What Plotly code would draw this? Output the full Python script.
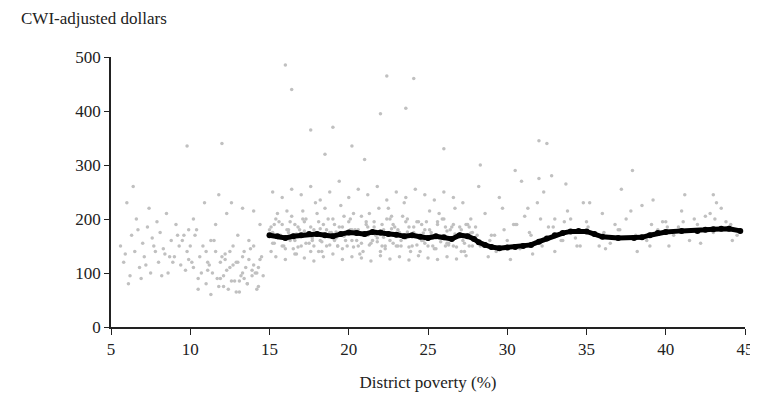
import plotly.graph_objects as go

gx = [5.6,5.8,6.0,6.2,6.3,6.5,6.6,6.8,7.0,7.1,7.3,7.5,7.6,7.8,8.0,8.1,8.3,8.5,8.6,8.8,9.0,9.1,9.3,9.4,9.6,9.8,9.9,
      6.1,6.7,7.2,7.7,8.2,8.7,9.2,9.7,6.4,7.4,8.4,9.5,5.9,6.9,7.9,8.9,9.9,
      10.0,10.2,10.3,10.5,10.6,10.8,11.0,11.1,11.3,11.4,11.6,11.8,11.9,12.1,12.2,12.4,12.5,12.7,12.8,13.0,13.1,13.3,13.4,13.6,13.7,13.9,14.0,14.2,14.3,14.5,
      10.1,10.4,10.7,11.0,11.2,11.5,11.7,12.0,12.3,12.6,12.9,13.2,13.5,13.8,14.1,14.4,
      10.2,10.9,11.6,12.3,13.0,13.7,14.4,10.5,11.3,12.1,12.9,13.6,14.3,11.8,12.6,13.3,14.0,
      11.1,11.9,12.7,13.4,14.2,12.2,13.1,13.9,14.6,12.5,13.3,14.0,
      15.0,15.2,15.4,15.6,15.8,16.0,16.2,16.4,16.6,16.8,17.0,17.2,17.4,17.6,17.8,18.0,18.2,18.4,18.6,18.8,19.0,19.2,19.4,19.6,19.8,20.0,
      20.2,20.4,20.6,20.8,21.0,21.2,21.4,21.6,21.8,22.0,22.2,22.4,22.6,22.8,23.0,23.2,23.4,23.6,23.8,24.0,24.2,24.4,24.6,24.8,25.0,
      25.2,25.4,25.6,25.8,26.0,26.2,26.4,26.6,26.8,27.0,27.2,27.4,27.6,27.8,
      15.1,15.5,15.9,16.3,16.7,17.1,17.5,17.9,18.3,18.7,19.1,19.5,19.9,20.3,20.7,21.1,21.5,21.9,22.3,22.7,23.1,23.5,23.9,24.3,24.7,25.1,25.5,25.9,26.3,26.7,27.1,27.5,
      15.3,15.7,16.1,16.5,16.9,17.3,17.7,18.1,18.5,18.9,19.3,19.7,20.1,20.5,20.9,21.3,21.7,22.1,22.5,22.9,23.3,23.7,24.1,24.5,24.9,25.3,25.7,26.1,26.5,26.9,27.3,27.7,
      15.1,15.6,16.1,16.6,17.1,17.6,18.1,18.6,19.1,19.6,20.1,20.6,21.1,21.6,22.1,22.6,23.1,23.6,24.1,24.6,25.1,25.6,26.1,26.6,27.1,27.6,
      15.3,15.8,16.3,16.8,17.3,17.8,18.3,18.8,19.3,19.8,20.3,20.8,21.3,21.8,22.3,22.8,23.3,23.8,24.3,24.8,25.3,25.8,26.3,26.8,27.3,27.8,
      15.2,15.7,16.2,16.7,17.2,17.7,18.2,18.7,19.2,19.7,20.2,20.7,21.2,21.7,22.2,22.7,23.2,23.7,24.2,24.7,25.2,25.7,26.2,26.7,27.2,27.7,
      15.2,15.8,16.4,17.0,17.6,18.2,18.8,19.4,20.0,20.6,21.2,21.8,22.4,23.0,23.6,24.2,24.8,25.4,26.0,26.6,27.2,
      15.4,16.0,16.6,17.2,17.8,18.4,19.0,19.6,20.2,20.8,21.4,22.0,22.6,23.2,23.8,24.4,25.0,25.6,26.2,26.8,27.4,
      28.0,28.3,28.6,29.0,29.3,29.7,30.0,30.4,30.8,31.1,31.5,31.9,32.2,32.6,33.0,33.4,33.8,34.2,34.6,35.0,35.5,36.0,36.5,37.0,37.5,38.0,38.5,39.0,39.5,40.0,40.5,41.0,41.5,42.0,42.5,43.0,43.5,44.0,44.5,
      28.2,28.8,29.5,30.2,30.9,31.6,32.3,33.0,33.7,34.4,35.2,36.2,37.2,38.2,39.2,40.2,41.2,42.2,43.2,44.2,
      28.5,29.2,30.5,31.3,32.0,32.8,33.5,34.0,34.8,35.8,36.8,37.8,38.8,39.8,40.8,41.8,42.8,43.8,
      28.1,28.9,29.8,30.6,31.4,32.1,32.9,33.6,34.3,35.1,36.1,37.1,38.1,39.1,40.1,41.1,42.1,43.1,44.1,
      16.0,16.4,17.6,22.4,24.1,23.6,22.0,19.0,20.2,9.8,12.0,32.0,32.5,26.0,18.5,21.0,37.9,43.0,30.5,28.3]
gy = [150,120,230,95,170,140,200,110,155,130,185,100,165,140,120,175,145,210,100,160,130,190,150,115,170,140,125,
      80,180,115,150,95,130,170,105,260,220,135,160,135,90,195,120,180,
      150,110,170,90,130,150,80,120,160,100,140,75,120,95,135,70,110,150,85,120,65,100,140,80,125,95,150,70,110,130,
      120,180,100,140,115,160,90,130,105,85,120,95,110,145,100,125,
      200,230,190,210,170,160,190,70,60,75,65,80,75,245,230,220,215,
      105,90,115,90,100,125,85,105,95,140,130,115,
      180,155,200,165,190,145,175,205,160,185,150,195,170,140,180,210,160,190,150,175,200,165,185,145,175,195,
      160,180,150,205,170,185,155,195,165,140,180,200,160,190,150,175,205,165,185,150,170,195,160,180,150,
      175,145,190,165,200,155,180,150,170,185,160,190,150,175,
      140,210,150,195,135,215,155,230,140,200,160,225,150,210,135,190,160,220,145,205,150,230,140,195,160,215,145,200,155,220,140,190,
      190,165,215,145,180,200,160,140,220,175,150,205,180,160,140,210,170,150,220,185,150,200,175,140,195,165,210,150,185,170,140,200,
      185,195,180,190,200,185,195,180,190,185,200,180,195,185,190,200,180,195,185,190,180,195,185,190,180,185,
      155,150,160,148,155,150,158,152,150,160,148,155,152,158,150,155,160,148,152,155,150,158,152,148,155,150,
      175,170,180,172,178,165,182,170,176,168,180,174,170,178,166,182,172,176,168,174,170,165,178,172,168,174,
      250,240,255,245,260,235,250,270,240,255,245,260,235,250,240,255,245,235,250,240,230,
      130,125,135,128,122,130,135,125,130,128,122,132,126,130,124,132,128,125,130,126,132,
      185,150,210,170,140,220,160,190,145,205,170,230,150,185,200,160,215,175,150,195,170,210,155,180,200,165,225,150,180,195,170,215,160,190,205,175,220,185,170,
      260,130,240,125,270,135,250,140,265,150,230,145,255,140,235,150,245,155,230,160,
      150,170,190,220,275,280,160,200,230,150,190,215,160,195,185,200,210,195,
      170,160,180,190,175,200,185,195,165,185,175,180,170,190,185,195,180,200,190,
      485,440,365,465,460,405,395,370,335,335,340,345,340,330,320,310,290,245,290,300]

# Black smoothed line (estimated)
lx = [15.0,15.5,16.0,16.5,17.0,17.5,18.0,18.5,19.0,19.5,20.0,20.5,21.0,21.5,22.0,22.5,23.0,23.5,24.0,24.5,25.0,25.5,26.0,26.5,27.0,27.5,
      27.9,28.2,28.6,29.0,29.5,30.0,30.5,31.0,31.5,32.0,32.5,33.0,33.5,34.0,34.5,35.0,35.5,36.0,37.0,38.0,38.5,39.0,39.5,40.0,41.0,42.0,42.5,43.0,43.5,44.0,44.7]
ly = [170,168,165,168,170,172,172,170,168,172,175,174,172,176,175,172,171,168,170,167,165,168,166,163,170,168,
      163,157,152,148,146,147,148,150,152,158,164,170,174,177,178,177,172,167,165,165,166,170,174,176,178,178,180,181,182,182,178]

xt = [5,10,15,20,25,30,35,40,45]
yt = [0,100,200,300,400,500]

fig = go.Figure()
fig.add_trace(go.Scatter(x=gx, y=gy, mode="markers",
                         marker=dict(color="#c0c0c0", size=3.5), hoverinfo="skip"))
fig.add_trace(go.Scatter(x=lx, y=ly, mode="lines+markers",
                         line=dict(color="black", width=5),
                         marker=dict(color="black", size=6)))
font = dict(family="Liberation Serif", size=17, color="#222")
fig.update_layout(
    width=758, height=400, showlegend=False,
    plot_bgcolor="white", paper_bgcolor="white",
    margin=dict(l=103, r=13, t=49, b=81),
    font=font,
    xaxis=dict(range=[5,45], tickvals=xt, showgrid=False, zeroline=False,
               showline=True, linecolor="#222", linewidth=1.5,
               ticks="outside", tickcolor="#222", ticklen=6, tickfont=font,
               title=dict(text="District poverty (%)", standoff=18, font=font)),
    yaxis=dict(range=[0,500], tickvals=yt, showgrid=False, zeroline=False,
               showline=True, linecolor="#222", linewidth=1.5,
               ticks="outside", tickcolor="#222", ticklen=5, tickfont=font),
    annotations=[dict(text="CWI-adjusted dollars", xref="paper", yref="paper",
                      x=-0.145, y=1.144, xanchor="left", yanchor="middle",
                      showarrow=False, font=font)],
)
fig.write_html("out.html")
